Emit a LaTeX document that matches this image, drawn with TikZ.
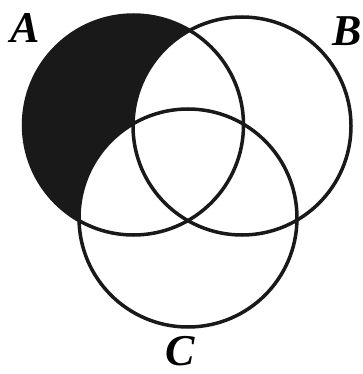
\documentclass[tikz,border=0pt]{standalone}
\usepackage{fontspec}
\setmainfont{Liberation Serif}
\begin{document}
\begin{tikzpicture}[x=1pt,y=-1pt,
  ring/.style={draw=black!90,line width=3.5pt},
  lab/.style={font=\fontsize{44}{44}\selectfont\bfseries\itshape,inner sep=0pt}]
\useasboundingbox (0,0) rectangle (363,374);
\coordinate (ca) at (133.5,125);
\coordinate (cb) at (242,126);
\coordinate (cc) at (188,218);
\fill[black!90] (ca) circle[radius=110];
\fill[white] (cb) circle[radius=109];
\fill[white] (cc) circle[radius=109];
\draw[ring] (ca) circle[radius=110];
\draw[ring] (cb) circle[radius=109];
\draw[ring] (cc) circle[radius=109];
\node[lab] (la) at (25,28) {A};
\node[lab] (lb) at (347,31) {B};
\node[lab] (lc) at (180,351) {C};
\end{tikzpicture}
\end{document}
